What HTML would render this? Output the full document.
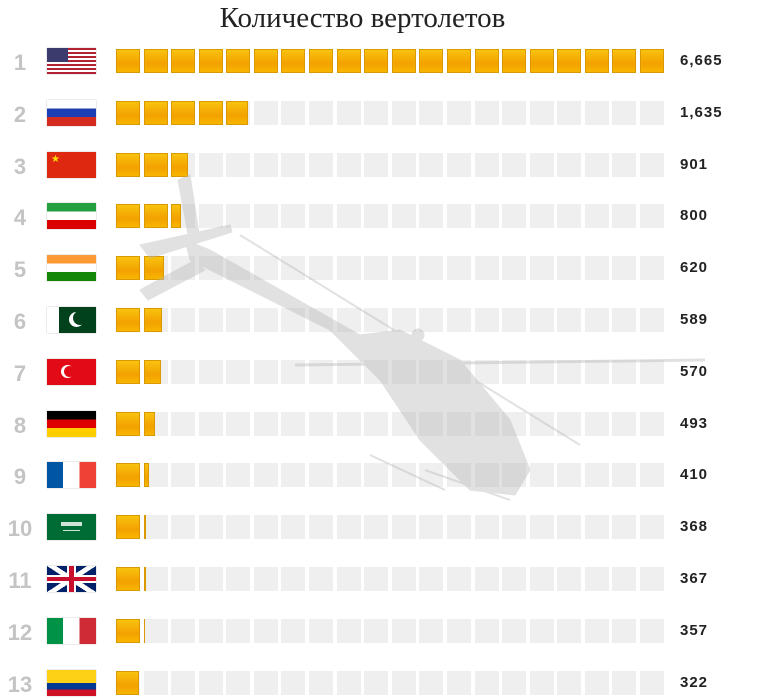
<!DOCTYPE html>
<html><head><meta charset="utf-8"><style>
body{margin:0;width:771px;height:699px;background:#fff;position:relative;overflow:hidden;font-family:"Liberation Sans",sans-serif}
.t{position:absolute;left:0;width:725px;top:2px;text-align:center;font-family:"Liberation Serif","DejaVu Serif",serif;font-size:29px;color:#222}
.r{position:absolute;left:0;width:40px;text-align:center;font-weight:bold;font-size:22px;color:#c4c4c4}
.v{position:absolute;left:680px;font-weight:bold;font-size:15px;color:#222;letter-spacing:1px}
.f{position:absolute;left:47px;width:49px;height:26px;overflow:hidden;box-shadow:0 0 1px #999}
.sq{position:absolute;width:24px;height:24px;background:#efefef}
.g{position:absolute;height:24px;background:linear-gradient(#f9c510,#f3a100 60%,#f8b800);box-shadow:inset 0 0 0 1px #d89a00}
</style></head><body>
<div class="t">Количество вертолетов</div>
<div id="c"></div>
<svg width="771" height="699" style="position:absolute;left:0;top:0;opacity:.42" viewBox="0 0 771 699">
<g fill="#b8b8b8" stroke="#b8b8b8">
<polygon points="178,180 190,175 200,240 190,245"/>
<polygon points="140,245 230,225 232,232 150,258"/>
<polygon points="140,290 195,260 205,270 148,300"/>
<polygon points="185,240 210,250 360,335 400,330 460,360 510,420 530,470 515,495 470,490 420,440 380,380 330,330 190,260"/>
<line x1="240" y1="235" x2="580" y2="445" stroke-width="2"/>
<line x1="295" y1="365" x2="705" y2="360" stroke-width="3"/>
<line x1="370" y1="455" x2="445" y2="490" stroke-width="2"/>
<line x1="425" y1="470" x2="510" y2="500" stroke-width="2"/>
<circle cx="418" cy="335" r="6"/>
</g></svg>
<script>
var d=[["1","6,665",6665,"us"],["2","1,635",1635,"ru"],["3","901",901,"cn"],["4","800",800,"ir"],["5","620",620,"in"],["6","589",589,"pk"],["7","570",570,"tr"],["8","493",493,"de"],["9","410",410,"fr"],["10","368",368,"sa"],["11","367",367,"gb"],["12","357",357,"it"],["13","322",322,"co"]];
var fl={
us:"background:repeating-linear-gradient(#b22234 0 2px,#fff 2px 4px)",
ru:"background:linear-gradient(#fff 33%,#1c3fb5 33% 66%,#d52b1e 66%)",
cn:"background:#de2910",
ir:"background:linear-gradient(#239f40 33%,#fff 33% 66%,#da0000 66%)",
in:"background:linear-gradient(#ff9933 33%,#fff 33% 66%,#138808 66%)",
pk:"background:linear-gradient(90deg,#fff 25%,#01411c 25%)",
tr:"background:#e30a17",
de:"background:linear-gradient(#000 33%,#dd0000 33% 66%,#ffce00 66%)",
fr:"background:linear-gradient(90deg,#0055a4 33%,#fff 33% 66%,#ef4135 66%)",
sa:"background:#006c35",
gb:"background:linear-gradient(33deg,transparent 45%,#fff 45% 55%,transparent 55%),linear-gradient(-33deg,transparent 45%,#fff 45% 55%,transparent 55%),#012169",
it:"background:linear-gradient(90deg,#009246 33%,#fff 33% 66%,#ce2b37 66%)",
co:"background:linear-gradient(#fcd116 50%,#003893 50% 75%,#ce1126 75%)"};
var P=27.58,h="";
d.forEach(function(r,i){
 var y=49+i*51.8;
 h+='<div class="r" style="top:'+(y+1)+'px">'+r[0]+'</div>';
 var ex="";
 if(r[3]=="us")ex='<div style="position:absolute;left:0;top:0;width:21px;height:14px;background:#3c3b6e"></div>';
 if(r[3]=="gb")ex='<div style="position:absolute;left:20px;top:0;width:9px;height:26px;background:#fff"></div><div style="position:absolute;left:0;top:9px;width:49px;height:8px;background:#fff"></div><div style="position:absolute;left:22px;top:0;width:5px;height:26px;background:#c8102e"></div><div style="position:absolute;left:0;top:11px;width:49px;height:4px;background:#c8102e"></div>';
 if(r[3]=="cn")ex='<div style="position:absolute;left:4px;top:2px;color:#ffde00;font-size:10px">★</div>';
 if(r[3]=="tr")ex='<div style="position:absolute;left:14px;top:6px;width:13px;height:13px;border-radius:50%;background:#fff"></div><div style="position:absolute;left:17px;top:7px;width:11px;height:11px;border-radius:50%;background:#e30a17"></div>';
 if(r[3]=="pk")ex='<div style="position:absolute;left:22px;top:5px;width:15px;height:15px;border-radius:50%;background:#fff"></div><div style="position:absolute;left:26px;top:4px;width:14px;height:14px;border-radius:50%;background:#01411c"></div>';
 if(r[3]=="sa")ex='<div style="position:absolute;left:14px;top:8px;width:21px;height:4px;background:#cfe3d6"></div><div style="position:absolute;left:16px;top:16px;width:17px;height:1px;background:#cfe3d6"></div>';
 h+='<div class="f" style="top:'+(y-1)+'px;'+fl[r[3]]+'">'+ex+'</div>';
 for(var k=0;k<20;k++)h+='<div class="sq" style="left:'+(116+k*P)+'px;top:'+y+'px"></div>';
 var n=r[2]/6665*20;
 for(var k=0;k<Math.ceil(n);k++){var w=Math.min(1,n-k)*24;h+='<div class="g" style="left:'+(116+k*P)+'px;top:'+y+'px;width:'+w+'px"></div>';}
 h+='<div class="v" style="top:'+(y+3)+'px">'+r[1]+'</div>';
});
document.getElementById("c").innerHTML=h;
</script>
</body></html>
